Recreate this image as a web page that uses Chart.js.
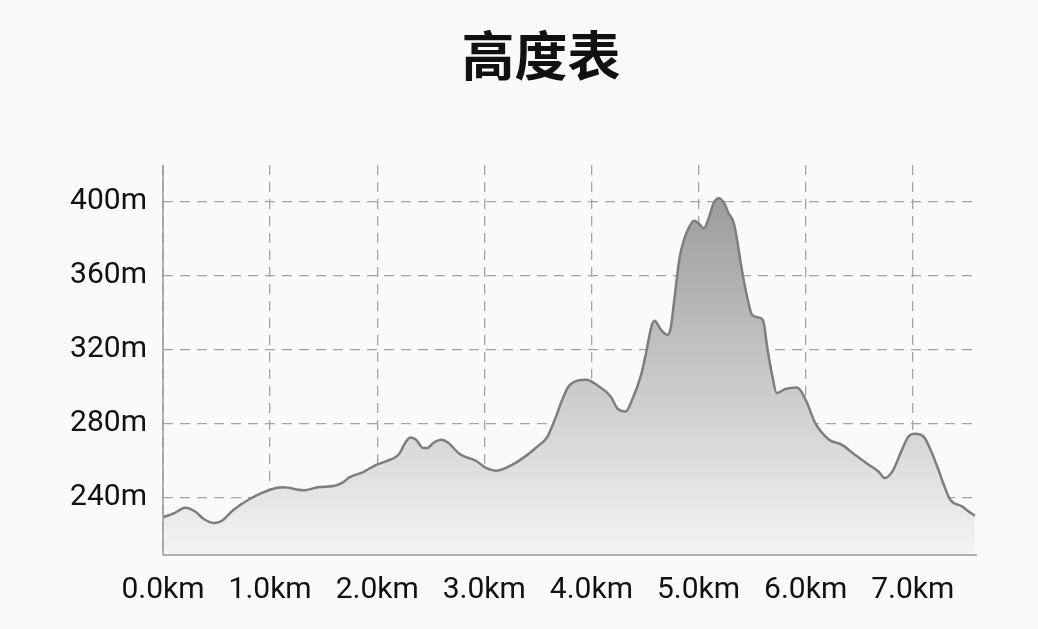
<!DOCTYPE html>
<html>
<head>
<meta charset="utf-8">
<title>高度表</title>
<script src="https://cdn.jsdelivr.net/npm/chart.js@4"></script>
<style>
  html, body { margin: 0; padding: 0; background: #fafafa; }
  #wrap { width: 1038px; height: 629px; }
</style>
</head>
<body>
<div id="wrap"><canvas id="elevationChart"></canvas></div>
<script>
// distance along the route (km) and elevation (m)
const distances = [0.00, 0.10, 0.21, 0.30, 0.38, 0.48, 0.55, 0.66, 0.81, 1.00, 1.12, 1.31, 1.46, 1.59, 1.68, 1.74, 1.87, 1.99,
  2.08, 2.21, 2.25, 2.31, 2.36, 2.43, 2.47, 2.52, 2.60, 2.66, 2.77, 2.92, 3.02, 3.11, 3.23, 3.36, 3.48, 3.59, 3.67, 3.74,
  3.80, 3.95, 4.07, 4.18, 4.24, 4.32, 4.38, 4.46, 4.51, 4.56, 4.59, 4.65, 4.71, 4.74, 4.77, 4.82, 4.85, 4.90, 4.96, 5.00,
  5.05, 5.10, 5.14, 5.19, 5.24, 5.28, 5.33, 5.36, 5.41, 5.46, 5.50, 5.58, 5.61, 5.64, 5.69, 5.73, 5.81, 5.92, 6.00, 6.09,
  6.22, 6.34, 6.46, 6.59, 6.68, 6.74, 6.81, 6.90, 6.96, 7.02, 7.10, 7.18, 7.24, 7.29, 7.35, 7.46, 7.52, 7.58];
const elevations = [229.4, 231.5, 234.5, 232.5, 228.5, 226.3, 227.5, 233.5, 239.3, 244.3, 245.6, 244.0, 245.8, 246.3, 248.3, 251.0, 253.9, 257.8,
  259.6, 264.1, 268.6, 272.6, 271.5, 266.9, 266.9, 269.5, 271.4, 269.9, 263.6, 260.0, 256.0, 254.6, 256.9, 261.4, 266.9, 273.1, 284.0, 294.8,
  301.1, 303.8, 300.2, 294.8, 288.5, 286.7, 293.0, 305.6, 318.2, 332.6, 335.7, 330.8, 328.1, 331.7, 345.2, 368.6, 376.8, 384.9, 389.9, 388.5,
  385.8, 392.1, 399.3, 402.0, 399.3, 393.9, 388.5, 379.5, 361.5, 347.0, 338.9, 337.1, 334.4, 321.8, 305.6, 296.6, 298.8, 299.6, 293.0, 280.4,
  271.4, 268.6, 263.2, 257.8, 254.2, 250.6, 254.2, 266.0, 273.1, 274.6, 273.1, 264.1, 255.1, 247.0, 238.9, 235.3, 232.6, 230.3];

const xTicks = [0, 1, 2, 3, 4, 5, 6, 7];
const yTicks = [240, 280, 320, 360, 400];
const chartTitle = '高度表';

const points = distances.map(function(d, i) {
  return { x: d, y: elevations[i] };
});

const ctx = document.getElementById('elevationChart').getContext('2d');

function areaGradient(context) {
  const area = context.chart.chartArea;
  if (!area) return '#dddddd';
  const yScale = context.chart.scales.y;
  const top = yScale.getPixelForValue(402);
  const g = context.chart.ctx.createLinearGradient(0, top, 0, area.bottom);
  g.addColorStop(0, '#9c9c9c');
  g.addColorStop(1, '#f4f4f4');
  return g;
}

// title drawn by hand so it can sit where the reference has it
const titlePlugin = {
  id: 'pageTitle',
  afterDraw: function(chart) {
    const c = chart.ctx;
    c.save();
    c.fillStyle = '#111111';
    c.font = 'bold 53px "Noto Sans CJK SC", sans-serif';
    c.textAlign = 'center';
    c.textBaseline = 'middle';
    c.fillText(chartTitle, 541, 56);
    c.restore();
  }
};

// solid axis lines (grid lines themselves are dashed)
const axisLines = {
  id: 'axisLines',
  afterDatasetsDraw: function(chart) {
    const a = chart.chartArea;
    const c = chart.ctx;
    c.save();
    c.strokeStyle = '#9a9a9a';
    c.lineWidth = 1.5;
    c.setLineDash([]);
    c.beginPath();
    c.moveTo(a.left, a.top);
    c.lineTo(a.left, a.bottom);
    c.lineTo(a.right, a.bottom);
    c.stroke();
    c.restore();
  }
};

new Chart(ctx, {
  type: 'line',
  data: {
    datasets: [
      {
        label: '高度',
        data: points,
        borderColor: '#7e7e7e',
        borderWidth: 2.5,
        backgroundColor: areaGradient,
        fill: 'start',
        tension: 0.4,
        cubicInterpolationMode: 'monotone',
        pointRadius: 0
      }
    ]
  },
  options: {
    responsive: true,
    maintainAspectRatio: false,
    animation: false,
    layout: {
      padding: { left: 0, right: 61, top: 165, bottom: 0 }
    },
    plugins: {
      legend: { display: false },
      tooltip: { enabled: false },
      title: { display: false }
    },
    scales: {
      x: {
        type: 'linear',
        min: 0,
        max: 7.6,
        afterBuildTicks: function(scale) {
          scale.ticks = xTicks.map(function(v) { return { value: v }; });
        },
        afterFit: function(scale) { scale.height = 74; },
        grid: { color: '#a4a4a4', lineWidth: 1.3, drawTicks: false },
        border: { display: false, dash: [10, 7] },
        ticks: {
          padding: 17,
          color: '#111111',
          maxRotation: 0,
          font: { family: 'Roboto, sans-serif', size: 30 },
          callback: function(value) { return value.toFixed(1) + 'km'; }
        }
      },
      y: {
        min: 209,
        max: 420,
        afterBuildTicks: function(scale) {
          scale.ticks = yTicks.map(function(v) { return { value: v }; });
        },
        afterFit: function(scale) { scale.width = 163; },
        grid: { color: '#a4a4a4', lineWidth: 1.3, drawTicks: false },
        border: { display: false, dash: [10, 7] },
        ticks: {
          padding: 16,
          color: '#111111',
          font: { family: 'Roboto, sans-serif', size: 30 },
          callback: function(value) { return value + 'm'; }
        }
      }
    }
  },
  plugins: [titlePlugin, axisLines]
});
</script>
</body>
</html>
